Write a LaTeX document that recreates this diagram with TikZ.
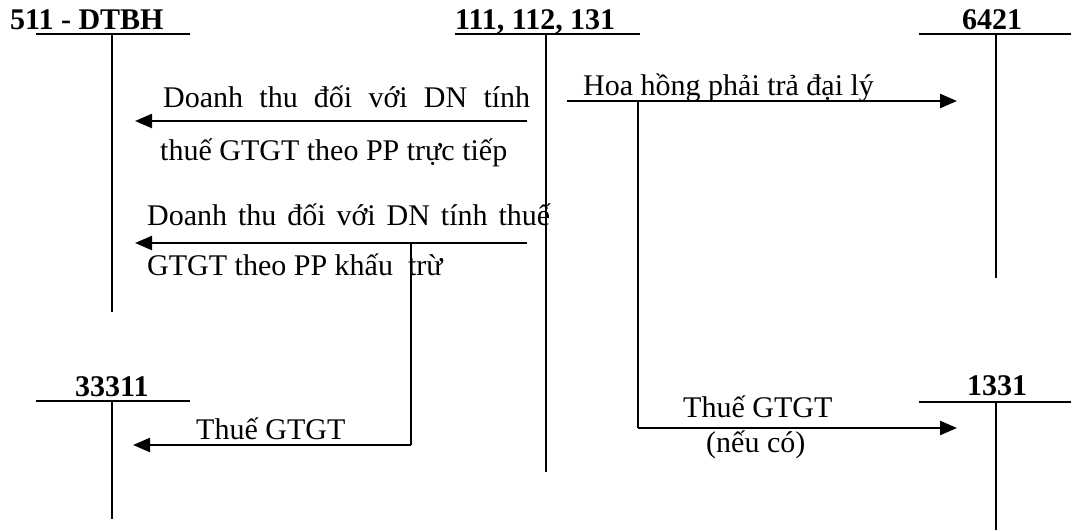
\documentclass[tikz,border=0pt]{standalone}
\usepackage{fontspec}
\setmainfont{Liberation Serif}
\usetikzlibrary{arrows.meta}
\begin{document}
\begin{tikzpicture}[x=1pt,y=-1pt,
  acct/.style={font=\fontsize{30}{36}\selectfont\bfseries, anchor=base west, inner sep=0pt},
  lbl/.style={font=\fontsize{30}{36}\selectfont, anchor=base west, inner sep=0pt},
  bar/.style={line width=1.8pt},
  stem/.style={line width=1.6pt},
  flow/.style={line width=2.3pt, -{Triangle[length=17pt,width=14pt]}}]
\useasboundingbox (0,0) rectangle (1071,530);

% ---- T-account headings ----
\node[acct] (dtbh)  at (10,29)  {511 - DTBH};
\node[acct] (cash)  at (455,29) {111, 112, 131};
\node[acct] (sell)  at (962,29) {6421};
\node[acct] (vout)  at (75,396) {33311};
\node[acct] (vin)   at (967,395) {1331};

% ---- T-account bars and stems ----
\coordinate (dtbhL) at (36,34);   \coordinate (dtbhR) at (190,34);
\coordinate (dtbhT) at (112,34);  \coordinate (dtbhB) at (112,312);
\coordinate (cashL) at (455,34);  \coordinate (cashR) at (640,34);
\coordinate (cashT) at (546,34);  \coordinate (cashB) at (546,472);
\coordinate (sellL) at (919,34);  \coordinate (sellR) at (1071,34);
\coordinate (sellT) at (996,34);  \coordinate (sellB) at (996,278);
\coordinate (voutL) at (36,401);  \coordinate (voutR) at (190,401);
\coordinate (voutT) at (112,401); \coordinate (voutB) at (112,519);
\coordinate (vinL)  at (919,402); \coordinate (vinR)  at (1071,402);
\coordinate (vinT)  at (996,402); \coordinate (vinB)  at (996,530);

\foreach \a in {dtbh,cash,sell,vout,vin}{
  \draw[bar]  (\a L) -- (\a R);
  \draw[stem] (\a T) -- (\a B);
}

% ---- revenue, direct method ----
\coordinate (r1s) at (527,121); \coordinate (r1e) at (135,121);
\draw[flow] (r1s) -- (r1e);
\node[lbl] (r1a) at (163,107) {\makebox[367pt][s]{Doanh thu đối với DN tính}};
\node[lbl] (r1b) at (160,160) {thuế GTGT theo PP trực tiếp};

% ---- revenue, deduction method ----
\coordinate (r2s) at (527,243); \coordinate (r2e) at (135,243);
\draw[flow] (r2s) -- (r2e);
\node[lbl] (r2a) at (147,225) {\makebox[403pt][s]{Doanh thu đối với DN tính thuế}};
\node[lbl] (r2b) at (147,275) {GTGT theo PP khấu\ \ trừ};

% ---- output VAT ----
\coordinate (k1) at (411,243); \coordinate (k2) at (411,445);
\coordinate (t1e) at (133,445);
\draw[stem] (k1) -- (k2);
\draw[flow] (k2) -- (t1e);
\node[lbl] (t1) at (196,439) {Thuế GTGT};

% ---- agent commission ----
\coordinate (c1s) at (567,101); \coordinate (c1e) at (957,101);
\draw[flow] (c1s) -- (c1e);
\node[lbl] (c1) at (583,95) {Hoa hồng phải trả đại lý};

% ---- input VAT ----
\coordinate (m1) at (638,101); \coordinate (m2) at (638,428);
\coordinate (t2e) at (957,428);
\draw[stem] (m1) -- (m2);
\draw[flow] (m2) -- (t2e);
\node[lbl] (t2)  at (683,417) {Thuế GTGT};
\node[lbl] (t2b) at (706,452) {(nếu có)};
\end{tikzpicture}
\end{document}
